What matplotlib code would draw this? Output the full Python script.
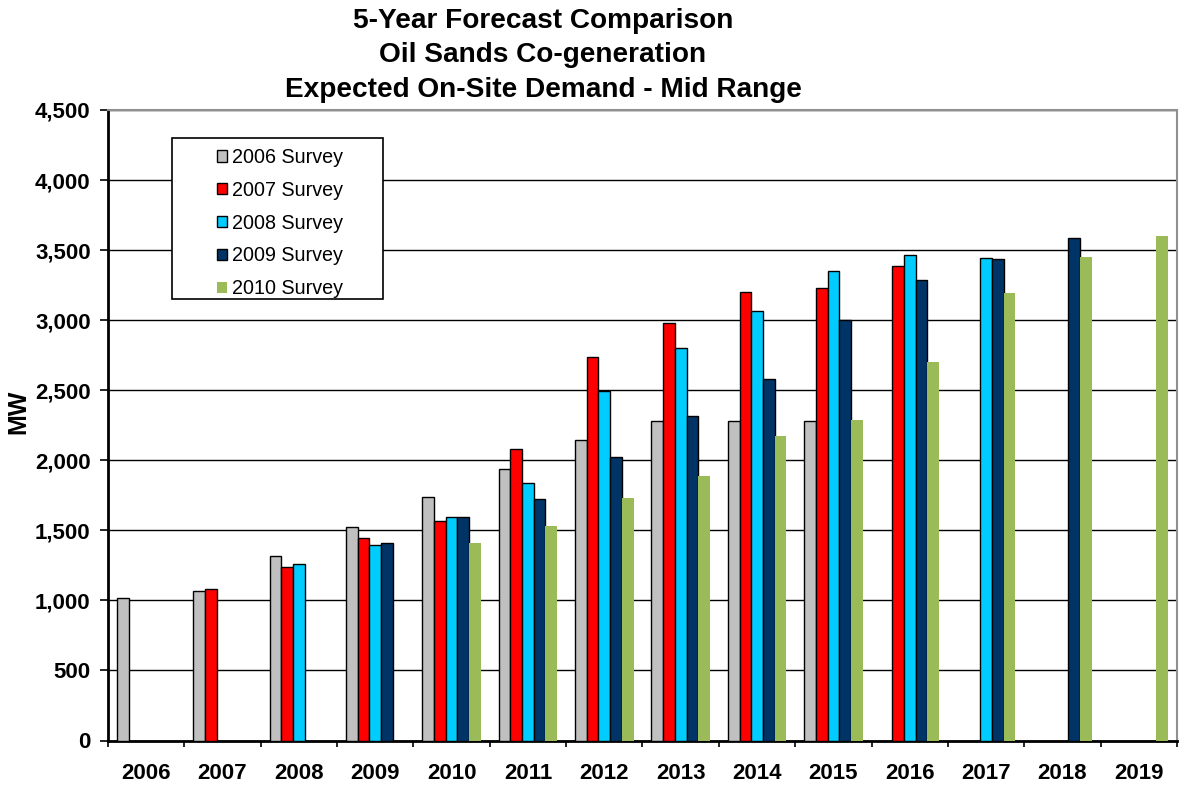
import numpy as np
import matplotlib
matplotlib.use('Agg')
from matplotlib import pyplot as plt
from matplotlib.patches import Rectangle

# data (MW)
years = ['2006', '2007', '2008', '2009', '2010', '2011', '2012',
         '2013', '2014', '2015', '2016', '2017', '2018', '2019']
series_names = ['2006 Survey', '2007 Survey', '2008 Survey', '2009 Survey', '2010 Survey']
nan = np.nan
s2006 = [1020, 1070, 1318, 1527, 1737, 1937, 2144, 2277, 2277, 2277, nan, nan, nan, nan]
s2007 = [nan, 1080, 1239, 1442, 1566, 2077, 2734, 2980, 3201, 3230, 3389, nan, nan, nan]
s2008 = [nan, nan, 1263, 1394, 1594, 1839, 2494, 2801, 3068, 3351, 3468, 3446, nan, nan]
s2009 = [nan, nan, nan, 1413, 1594, 1727, 2020, 2316, 2582, 3001, 3284, 3437, 3589, nan]
s2010 = [nan, nan, nan, nan, 1409, 1532, 1730, 1891, 2175, 2289, 2699, 3194, 3449, 3604]
colors = ['#C0C0C0', '#FF0000', '#00CCFF', '#003366', '#9BBB59']
title_lines = ['5-Year Forecast Comparison', 'Oil Sands Co-generation',
               'Expected On-Site Demand - Mid Range']

plt.rcParams['font.family'] = ['Liberation Sans', 'DejaVu Sans']

W, H = 1179, 785
fig = plt.figure(figsize=(W/100, H/100), dpi=100)
ax = fig.add_axes([108/W, 1-740.5/H, (1177-108)/W, (740.5-110)/H])

x = np.arange(len(years))
w = 0.153
for i, (vals, c, name) in enumerate(zip([s2006, s2007, s2008, s2009, s2010], colors, series_names)):
    edge = 'none' if i == 4 else 'black'
    ax.bar(x + (i-2)*w, vals, width=w, color=c, edgecolor=edge, linewidth=1.0,
           label=name, zorder=3)

ax.set_xlim(-0.5, len(years)-0.5)
ax.set_ylim(0, 4500)
ax.set_yticks(np.arange(0, 4501, 500))
ax.set_yticklabels(['{:,}'.format(v) for v in range(0, 4501, 500)],
                   fontsize=16, fontweight='bold')
ax.yaxis.grid(True, color='black', linewidth=1.0, zorder=0)
ax.tick_params(axis='y', length=5.5, width=1.2, pad=7)

# category ticks between groups, labels centered under groups
ax.set_xticks(np.arange(-0.5, len(years)), minor=False)
ax.set_xticklabels([])
ax.set_xticks(x, minor=True)
ax.set_xticklabels(years, minor=True, fontsize=16, fontweight='bold')
ax.tick_params(axis='x', which='major', length=4.5, width=1.2)
ax.tick_params(axis='x', which='minor', length=0, pad=16)

ax.spines['left'].set_linewidth(2)
ax.spines['bottom'].set_linewidth(2)
for s in ['top', 'right']:
    ax.spines[s].set_color('#909090')
    ax.spines[s].set_linewidth(1.5)

ax.set_ylabel('MW', fontsize=18, fontweight='bold')
ax.yaxis.set_label_coords((30-108)/1069, (740.5-411.5)/630.5)

# legend box
frame = Rectangle((172/W, 1-299/H), (383-172)/W, (299-138)/H, transform=fig.transFigure,
                  facecolor='white', edgecolor='black', linewidth=1.2, zorder=4)
ax.add_patch(frame)
frame.set_clip_on(False)
leg = ax.legend(loc='upper left', bbox_to_anchor=(217/W, 1-148/H),
                bbox_transform=fig.transFigure,
                fontsize=14.2, frameon=False,
                handlelength=0.5, handleheight=0.5, handletextpad=0.25,
                labelspacing=0.7, borderpad=0, borderaxespad=0)
leg.set_zorder(5)

for line, yb in zip(title_lines, [28, 62.5, 97]):
    fig.text(543/W, 1-yb/H, line, ha='center', va='baseline',
             fontsize=20.2, fontweight='bold')

fig.savefig('out.png', dpi=100)
